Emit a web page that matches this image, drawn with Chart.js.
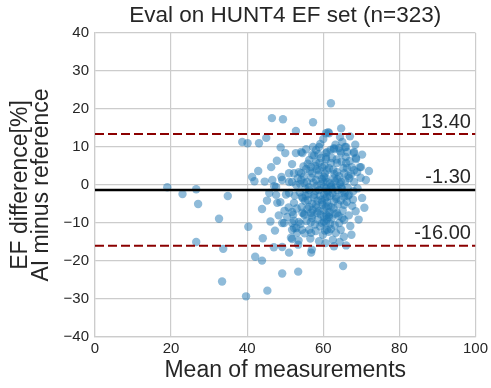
<!DOCTYPE html>
<html lang="en">
<head>
<meta charset="UTF-8">
<title>Eval on HUNT4 EF set</title>
<style>
    body { margin: 0; padding: 0; background: #fff; }
    #baChart { display: block; }
</style>
</head>
<body>
<canvas id="baChart" width="491" height="388"></canvas>
<script src="https://cdn.jsdelivr.net/npm/chart.js@4.4.0/dist/chart.umd.min.js"></script>
<script>
// [mean of measurements, AI minus reference]
const scatterPairs = [
    [19.0,-0.6],[23.0,-2.4],[26.6,-1.1],[27.1,-5.0],[34.9,-2.9],[32.6,-8.9],[26.6,-15.0],[33.7,-16.8],
    [33.4,-25.4],[39.7,-29.3],[40.3,-11.0],[38.7,11.3],[40.1,11.0],[43.1,11.0],[62.0,21.5],[46.5,17.6],
    [49.4,17.3],[57.3,16.5],[52.8,14.2],[61.3,13.9],[64.4,12.6],[60.0,12.1],[59.2,10.8],[50.0,8.4],
    [57.3,10.0],[52.8,8.4],[54.5,8.4],[55.5,9.4],[42.9,3.7],[41.3,2.1],[41.9,1.0],[49.0,2.1],
    [47.6,-0.5],[51.8,5.5],[51.0,3.1],[53.6,3.4],[68.0,8.4],[68.6,6.8],[72.0,3.7],[71.2,1.3],
    [66.0,10.0],[62.8,9.4],[64.4,8.9],[69.9,4.7],[68.1,3.9],
    [42.1,-18.9],[43.9,-19.9],[49.2,-23.3],[53.4,-22.8],[65.2,-21.3],[49.2,-16.3],[51.0,-17.8],[53.4,-15.7],
    [57.0,-17.0],[56.8,-17.8],[51.8,-14.2],[43.9,-6.3],[49.7,-10.0],[50.5,-8.4],[52.3,-9.4],[53.6,-9.7],
    [52.3,-11.3],[53.1,-12.6],[56.3,-11.8],[56.8,-12.6],[51.8,-7.1],[54.5,-7.3],[47.9,-4.7],[48.7,-4.5],
    [45.8,-2.1],[47.6,-2.6],[47.1,-0.3],[60.4,-12.0],[63.3,-12.6],[65.4,-13.6],[64.2,-10.0],[65.0,-8.7],
    [61.5,-8.4],[59.7,-10.0],[60.7,-10.0],[67.6,-5.5],[70.2,-3.4],[66.5,-2.9],[57.0,-8.7],[55.0,-7.9],
    [45.3,-27.8],[55.2,-4.2],
    [60.7,13.6],[54.2,8.7],[58.1,9.2],[58.9,10.0],[57.1,7.9],[60.7,8.4],[56.3,6.6],[58.1,6.0],
    [59.4,7.1],[60.7,6.8],[52.3,3.1],[54.2,3.1],[55.5,4.2],[56.8,4.7],[57.1,3.1],[58.9,3.9],
    [59.7,4.7],[60.2,2.1],[49.2,1.3],[51.0,0.8],[54.2,1.3],[55.7,0.8],[58.1,1.3],[61.0,0.8],
    [61.5,13.6],[62.8,9.7],[64.1,9.7],[65.7,10.0],[61.0,8.7],[64.7,8.4],[68.1,8.7],[68.6,7.1],
    [60.7,7.3],[62.3,7.1],[62.0,5.8],[63.6,5.8],[66.0,5.8],[66.2,4.5],[67.5,4.7],[69.6,4.7],
    [68.9,3.4],[61.0,3.9],[63.6,3.4],[65.5,3.1],[66.8,1.8],[62.8,1.8],[60.7,1.8],[64.7,0.8],
    [68.1,0.8],
    [51.0,-2.1],[52.3,-4.7],[54.4,-3.1],[52.9,0.0],[55.0,0.5],[56.3,-1.3],[57.6,-2.6],[58.9,-1.3],
    [60.2,-0.5],[58.1,-5.2],[59.7,-4.5],[60.7,-5.8],[56.3,-5.8],[55.0,-7.6],[56.8,-7.3],[58.4,-7.3],
    [60.2,-8.4],[49.2,-10.0],[51.8,-10.0],[52.9,-11.3],[51.8,-11.8],[54.4,-11.8],[51.5,-13.9],[46.6,1.3],
    [51.8,0.8],
    [62.0,-0.5],[64.7,-0.5],[66.8,-2.6],[61.0,-3.1],[63.3,-3.1],[65.5,-3.1],[65.5,-5.2],[62.0,-5.8],
    [63.6,-7.3],[61.5,-7.9],[65.5,-9.2],[60.2,-9.7],[61.0,-11.8],
    [61.2,-1.8],[62.4,-2.2],[60.5,-3.6],[59.1,-2.8],[63.8,-1.4],[64.9,-2.0],[58.3,-0.2],[57.4,0.6],
    [56.1,-2.4],[55.3,-1.1],[61.8,0.4],[63.1,0.9],[59.6,1.6],[58.8,2.7],[62.9,2.9],[64.2,2.3],
    [65.8,1.1],[66.4,-0.7],[60.1,-6.5],[61.6,-7.1],[62.7,-6.2],[63.9,-5.1],[64.6,-4.0],[59.3,-7.8],
    [58.6,-9.1],[57.8,-10.4],[60.9,-9.0],[62.2,-8.8],[63.0,-10.6],[61.4,-12.3],[59.9,-13.1],[58.0,-12.1],
    [57.2,-6.6],[56.0,-4.0],[55.6,-9.5],[54.3,-5.8],[53.8,-1.9],[54.9,2.2],[56.5,3.6],[57.9,5.0],
    [59.0,5.9],[60.3,5.1],[61.5,4.4],[62.6,4.0],[63.5,6.7],[64.8,6.2],[65.9,7.4],[66.9,6.3],
    [67.3,2.8],[67.9,-1.6],[66.2,-4.4],[65.1,-6.7],[64.0,-8.1],[66.7,-8.0],[67.1,-10.8],[62.5,-14.4],
    [60.6,-15.3],[58.9,-14.8],[63.4,-3.6],[61.0,-4.6],[59.8,-5.2],[58.5,-4.1],[57.5,-3.3],[60.7,-0.9],
    [62.1,-0.1],[59.4,0.2],[63.3,-0.6],[64.4,0.3],[58.2,-6.0],[57.0,-8.0],[55.8,-6.3],[54.6,-3.5],
    [53.0,-6.2],[52.5,-2.8],[53.3,1.8],[56.9,1.9],[55.9,5.6],[57.6,7.8],[58.7,8.1],[61.9,9.2],
    [63.2,10.6],[65.0,11.3],[66.3,8.7],[62.8,-16.1],[64.3,-15.0],[56.6,-14.1],[55.1,-12.7],[54.0,-10.2],
    [53.5,-14.6],[50.9,-5.9],[50.2,-2.5],[49.8,-6.8],[48.3,-8.0],[47.3,-12.0],[46.1,-9.6],[45.2,-4.1],
    [44.6,0.9],[46.3,4.7],[47.8,6.4],[48.8,9.9],[45.0,12.4],[44.1,-14.0],[47.0,-16.4],[69.0,-0.9],
    [69.8,1.9],[68.5,-6.9],[70.8,-6.0],[69.3,-9.1],[67.4,-13.1],[66.0,-15.9],[68.4,10.6],[70.2,8.0],
    [64.7,14.9],[67.0,12.8],[60.9,-1.5],[61.7,-2.9],[62.8,-4.3],[60.2,-2.4],[59.5,-3.9],[61.3,-5.6],
    [62.4,-1.1],[60.0,0.9],[58.0,-1.5],[63.7,1.5],[64.9,-1.0],[65.6,-2.2],[57.1,-4.9],[59.2,-10.9],
    [61.8,-10.2],[63.2,-7.6],[56.7,-9.8],[55.4,-2.9],[54.8,4.9],[58.3,4.1],[60.4,3.0],[65.3,4.4],
    [66.6,2.4],[67.8,-3.8],[60.8,-7.9],[58.8,-6.9],[62.0,-11.6],[64.6,-11.8],[56.2,-0.6],[53.9,0.3],
    [52.1,-7.8]
];

const upperLimit = 13.40;
const meanDiff = -1.30;
const lowerLimit = -16.00;
const limitLabels = ['13.40', '-1.30', '-16.00'];

const xRange = [0, 100];
const yRange = [-40, 40];

const textColor = '#262626';
const gridColor = '#cccccc';
const fontFamily = '"Liberation Sans", Arial, sans-serif';

function hline(value, color, dash, width) {
    return {
        type: 'line',
        data: [{ x: xRange[0], y: value }, { x: xRange[1], y: value }],
        borderColor: color,
        borderWidth: width,
        borderDash: dash,
        pointRadius: 0,
        showLine: true,
        fill: false,
        order: 0
    };
}

// write the limit values above each line, at the right edge
const limitText = {
    id: 'limitText',
    afterDatasetsDraw(chart) {
        const { ctx, scales: { x, y } } = chart;
        const values = [upperLimit, meanDiff, lowerLimit];
        ctx.save();
        ctx.font = '20px ' + fontFamily;
        ctx.fillStyle = textColor;
        ctx.textAlign = 'right';
        ctx.textBaseline = 'bottom';
        values.forEach((v, i) => {
            ctx.fillText(limitLabels[i], x.getPixelForValue(98.8), y.getPixelForValue(v) - 2);
        });
        ctx.restore();
    }
};

const ctx = document.getElementById('baChart').getContext('2d');
const baChart = new Chart(ctx, {
    type: 'scatter',
    data: {
        datasets: [
            hline(upperLimit, '#8b0000', [9, 4], 2),
            hline(meanDiff, '#000000', [], 2.5),
            hline(lowerLimit, '#8b0000', [9, 4], 2),
            {
                label: 'EF difference',
                data: scatterPairs.map(p => ({ x: p[0], y: p[1] })),
                backgroundColor: 'rgba(31, 119, 180, 0.5)',
                borderWidth: 0,
                pointRadius: 4.2,
                order: 1
            }
        ]
    },
    options: {
        responsive: false,
        animation: false,
        devicePixelRatio: 1,
        layout: { padding: { right: 14, left: 0, bottom: 0, top: 0 } },
        plugins: {
            legend: { display: false },
            tooltip: { enabled: false },
            title: {
                display: true,
                text: 'Eval on HUNT4 EF set (n=323)',
                color: textColor,
                fullSize: false,
                font: { family: fontFamily, size: 22.5, weight: 'normal' },
                padding: { top: 2, bottom: 4 }
            }
        },
        scales: {
            x: {
                type: 'linear',
                min: xRange[0],
                max: xRange[1],
                ticks: {
                    stepSize: 20,
                    color: textColor,
                    padding: 3,
                    font: { family: fontFamily, size: 15 }
                },
                grid: { color: gridColor, lineWidth: 1.2, drawTicks: false },
                border: { color: gridColor, width: 1.2 },
                title: {
                    display: true,
                    text: 'Mean of measurements',
                    color: textColor,
                    font: { family: fontFamily, size: 23 },
                    padding: { top: 2, bottom: 4 }
                },
                afterFit(scale) { scale.height = 51; }
            },
            y: {
                type: 'linear',
                min: yRange[0],
                max: yRange[1],
                ticks: {
                    stepSize: 10,
                    color: textColor,
                    padding: 6,
                    font: { family: fontFamily, size: 15 },
                    callback: v => String(v).replace('-', '\u2212')
                },
                grid: { color: gridColor, lineWidth: 1.2, drawTicks: false },
                border: { color: gridColor, width: 1.2 },
                title: {
                    display: true,
                    text: ['EF difference[%]', 'AI minus reference'],
                    color: textColor,
                    font: { family: fontFamily, size: 23, lineHeight: 0.92 },
                    padding: { top: 10, bottom: 4 }
                },
                afterFit(scale) { scale.width = 95; }
            }
        }
    },
    plugins: [limitText]
});
</script>
</body>
</html>
